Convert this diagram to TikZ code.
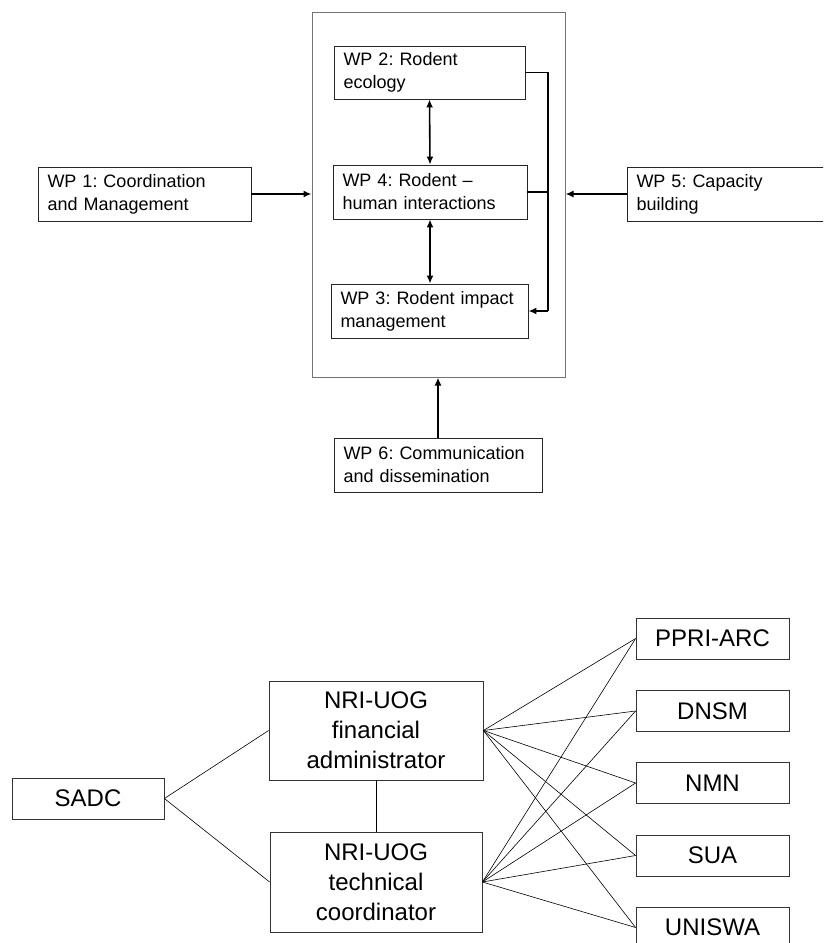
\documentclass[tikz,border=0pt]{standalone}
\usepackage{fontspec}
\setmainfont{Liberation Sans}
\usetikzlibrary{arrows.meta}
\frenchspacing
\begin{document}
\begin{tikzpicture}[x=1pt,y=-1pt,
  box/.style={draw=black!85, line width=0.9pt, inner xsep=9.5pt, inner ysep=0pt, font=\fontsize{18}{23}\selectfont, align=left},
  org/.style={draw=black!80, line width=0.8pt, inner sep=0pt, font=\fontsize{24}{30}\selectfont, align=center},
  outer/.style={draw=black!55, line width=1pt, inner sep=0pt},
  arr/.style={line width=1.6pt, -{Latex[length=8pt,width=7pt]}},
  darr/.style={line width=1.6pt, {Latex[length=8pt,width=7pt]}-{Latex[length=8pt,width=7pt]}},
  rail/.style={line width=1.6pt},
  link/.style={line width=0.6pt}]
\clip (0,0) rectangle (823,943);
\fill[white] (0,0) rectangle (823,943);

% ---------- top diagram ----------
\node[outer, minimum width=253pt, minimum height=365pt] (big) at (438.5,194.5) {};
\node[box, text width=172pt, minimum height=53pt] (wp2) at (429.5,72.5) {WP 2: Rodent\\ecology};
\node[box, text width=175pt, minimum height=54pt] (wp4) at (430,192) {WP 4: Rodent --\\human interactions};
\node[box, text width=178pt, minimum height=54pt] (wp3) at (429.5,311) {WP 3: Rodent impact\\management};
\node[box, text width=194pt, minimum height=54pt] (wp1) at (144.5,194) {WP 1: Coordination\\and Management};
\node[box, text width=194pt, minimum height=54pt] (wp5) at (733.5,194) {WP 5: Capacity\\building};
\node[box, text width=189pt, minimum height=54pt] (wp6) at (438,465) {WP 6: Communication\\and dissemination};

\coordinate (railx) at (548,0);
\draw[darr] (wp2.south) -- (wp4.north);
\draw[darr] (wp4.north |- wp4.south) -- (wp4.north |- wp3.north);
\draw[rail] (wp2.east) -- (wp2.east -| railx) -- (wp3.east -| railx);
\draw[arr] (wp3.east -| railx) -- (wp3.east);
\draw[rail] (wp4.east) -- (wp4.east -| railx);
\draw[arr] (wp1.east) -- (wp1.east -| big.west);
\draw[arr] (wp5.west) -- (wp5.west -| big.east);
\draw[arr] (wp6.north) -- (wp6.north |- big.south);

% ---------- bottom diagram ----------
\node[org, minimum width=152pt, minimum height=41pt] (sadc) at (88,798.5) {SADC};
\node[org, minimum width=214pt, minimum height=99pt] (fin) at (376,730.5) {NRI-UOG\\financial\\administrator};
\node[org, minimum width=212pt, minimum height=100pt] (tech) at (376,882) {NRI-UOG\\technical\\coordinator};
\node[org, minimum width=153pt, minimum height=41pt] (ppri) at (712.5,638.5) {PPRI-ARC};
\node[org, minimum width=153pt, minimum height=41pt] (dnsm) at (712.5,711) {DNSM};
\node[org, minimum width=153pt, minimum height=41pt] (nmn) at (712.5,783) {NMN};
\node[org, minimum width=153pt, minimum height=41pt] (sua) at (712.5,855.5) {SUA};
\node[org, minimum width=153pt, minimum height=41pt] (uni) at (712.5,927.5) {UNISWA};

\draw[link] (sadc.east) -- (fin.west);
\draw[link] (sadc.east) -- (tech.west);
\draw[link] (fin.south) -- (tech.north);
\foreach \t in {ppri,dnsm,nmn,sua,uni}{
  \draw[link] (fin.east) -- (\t.west);
  \draw[link] (tech.east) -- (\t.west);
}
\end{tikzpicture}
\end{document}
